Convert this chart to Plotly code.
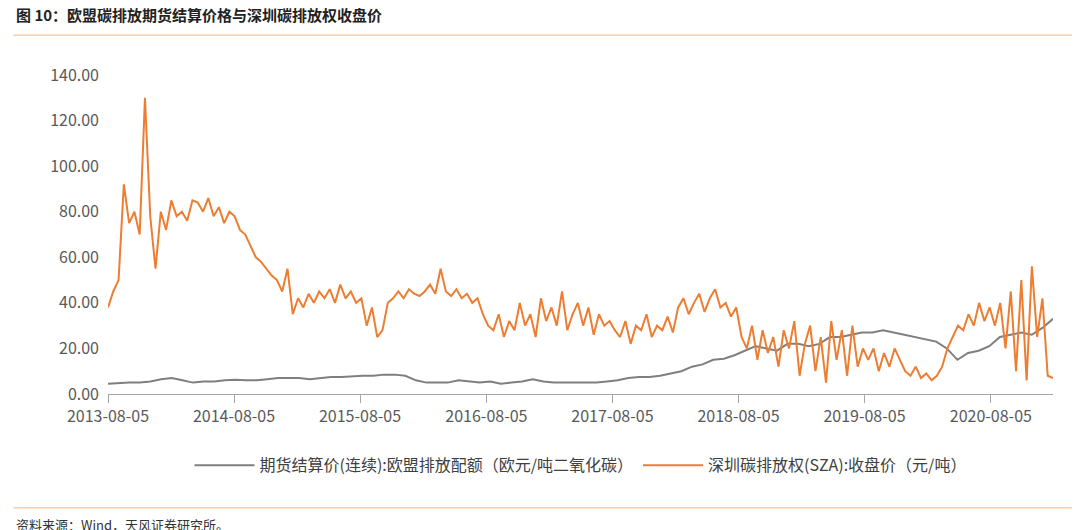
import pandas as pd
import plotly.graph_objects as go

sza_vals = [
38,45,50,92,75,80,70,130,78,55,80,72,85,78,80,76,85,84,80,86,78,82,75,80,
78,72,70,65,60,58,55,52,50,45,55,35,42,38,44,40,45,42,46,40,48,42,45,40,
42,30,38,25,28,40,42,45,42,46,44,43,45,48,44,55,45,43,46,42,44,40,42,35,
30,28,35,25,32,28,40,30,35,25,42,32,38,30,45,28,35,40,30,38,26,35,30,32,
28,25,32,22,30,28,35,25,30,28,34,27,38,42,35,40,44,36,42,46,38,40,34,38,
25,20,30,15,28,18,25,12,28,20,32,8,22,30,10,25,5,32,15,28,8,30,12,20,
15,20,10,18,12,20,15,10,8,12,7,9,6,8,12,20,25,30,28,35,30,40,32,38,
30,40,20,45,10,50,6,56,25,42,8,7]
eua_vals = [4.5,4.8,5,5,5.5,
6.5,7,6,5,5.5,5.5,6,6.2,6,6,6.5,7,
7,7,6.5,7,7.5,7.5,7.8,8,8,8.5,8.5,8,
6,5,5,5,6,5.5,5,5.5,4.5,5,5.5,6.5,
5.5,5,5,5,5,5,5.5,6,7,7.5,7.5,8,
9,10,12,13,15,15.5,17,19,21,20,19,22,
22,21,22,25,25,26,27,27,28,27,26,25,
24,23,20,15,18,19,21,25,26,27,26,29,
33]
start, end = "2013-08-05", "2021-02-01"
sza_dates = pd.date_range(start, end, periods=len(sza_vals))
eua_dates = pd.date_range(start, end, periods=len(eua_vals))
tick_dates = [f"{y}-08-05" for y in range(2013, 2021)]
y_ticks = [0, 20, 40, 60, 80, 100, 120, 140]

font = "Noto Sans CJK SC"
fig = go.Figure()
fig.add_trace(go.Scatter(x=eua_dates, y=eua_vals, mode="lines", line=dict(color="#7f7f7f", width=2),
                         name="期货结算价(连续):欧盟排放配额（欧元/吨二氧化碳）"))
fig.add_trace(go.Scatter(x=sza_dates, y=sza_vals, mode="lines", line=dict(color="#ed7d31", width=2),
                         name="深圳碳排放权(SZA):收盘价（元/吨）"))
fig.update_layout(
    width=1080, height=530, plot_bgcolor="white", paper_bgcolor="white",
    margin=dict(l=100, r=35, t=67, b=144),
    font=dict(family=font, color="#595959", size=16),
    showlegend=True,
    legend=dict(orientation="h", x=0.5, xanchor="center", y=-0.17, yanchor="top",
                font=dict(size=16, color="#404040"), itemwidth=60),
    xaxis=dict(range=[start, end], tickvals=tick_dates, ticktext=tick_dates,
               showgrid=False, showline=True, linecolor="#a6a6a6", ticks="outside",
               tickcolor="#a6a6a6", ticklen=8),
    yaxis=dict(range=[0, 140], tickvals=y_ticks, ticktext=[f"{v:.2f}" for v in y_ticks],
               showgrid=False, zeroline=False, showline=False, ticklabelstandoff=8),
    shapes=[dict(type="line", xref="paper", yref="paper", x0=-0.1, x1=1.1, y0=1.125, y1=1.125,
                 line=dict(color="#f4b183", width=1)),
            dict(type="line", xref="paper", yref="paper", x0=-0.1, x1=1.1, y0=-0.357, y1=-0.357,
                 line=dict(color="#f4b183", width=1))],
    annotations=[
        dict(text="<b>图 10：欧盟碳排放期货结算价格与深圳碳排放权收盘价</b>", xref="paper", yref="paper",
             x=-0.1, y=1.15, xanchor="left", yanchor="bottom", showarrow=False,
             font=dict(size=15, color="#222")),
        dict(text="资料来源：Wind，天风证券研究所。", xref="paper", yref="paper",
             x=-0.1, y=-0.41, xanchor="left", yanchor="middle", showarrow=False,
             font=dict(size=13, color="#333")),
    ],
)
fig.write_html("out.html")
